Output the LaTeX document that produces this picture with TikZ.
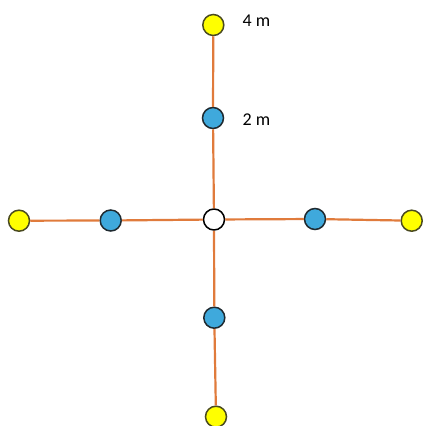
\documentclass[tikz,border=0pt]{standalone}
\usepackage{fontspec}
\setmainfont{Carlito}
\definecolor{lineorange}{HTML}{E07B3C}
\definecolor{dotblue}{HTML}{3FA9DC}
\definecolor{dotyellow}{HTML}{FFFF00}
\definecolor{dotedge}{HTML}{1F2A30}
\definecolor{yedge}{HTML}{4A4A20}
\begin{document}
\begin{tikzpicture}[x=1pt,y=-1pt,
  dot/.style={circle,draw=dotedge,line width=1.5pt,inner sep=0pt,minimum size=21pt},
  ydot/.style={dot,fill=dotyellow,draw=yedge},
  bdot/.style={dot,fill=dotblue},
  wdot/.style={dot,fill=white,draw=black},
  link/.style={draw=lineorange,line width=2.2pt},
  lab/.style={anchor=west,font=\fontsize{18}{21}\selectfont,inner sep=0pt}]
\useasboundingbox (0,0) rectangle (423,426);
\node[wdot] (c) at (214,219.5) {};
\node[ydot] (ty) at (213.3,25) {};
\node[bdot] (tb) at (213,118) {};
\node[ydot] (ly) at (19,220.7) {};
\node[bdot] (lb) at (110.7,220.5) {};
\node[bdot] (rb) at (315,219) {};
\node[ydot] (ry) at (411.7,220.7) {};
\node[bdot] (bb) at (214.3,317.7) {};
\node[ydot] (by) at (216,416.7) {};
\draw[link] (ty) -- (tb);
\draw[link] (tb) -- (c);
\draw[link] (ly) -- (lb);
\draw[link] (lb) -- (c);
\draw[link] (c) -- (rb);
\draw[link] (rb) -- (ry);
\draw[link] (c) -- (bb);
\draw[link] (bb) -- (by);
\node[lab] (l4) at (242.5,20.5) {4 m};
\node[lab] (l2) at (242.5,119.6) {2 m};
\end{tikzpicture}
\end{document}
